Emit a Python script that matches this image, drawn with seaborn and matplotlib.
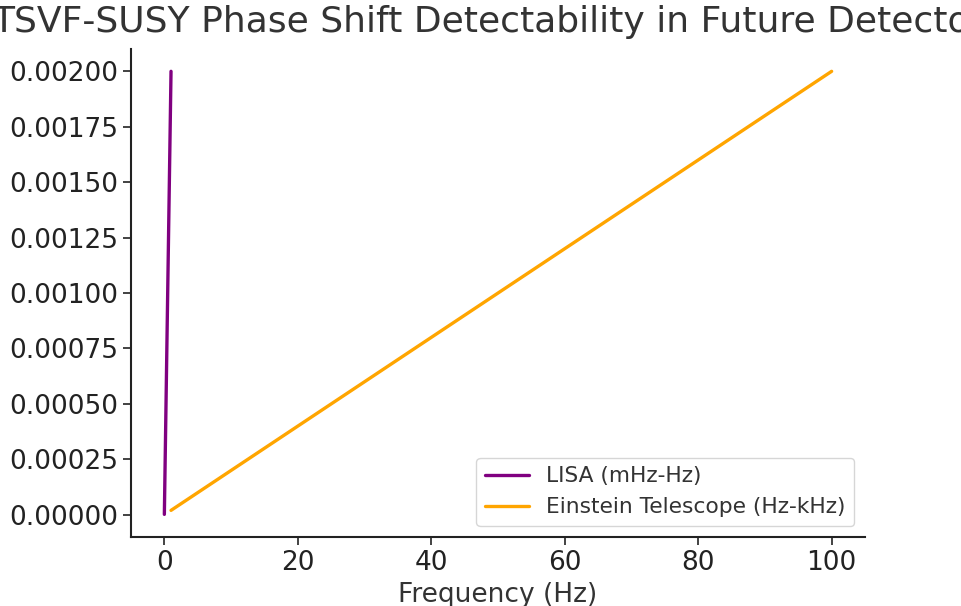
import numpy as np
import pandas as pd
import matplotlib
matplotlib.use("Agg")
import matplotlib.pyplot as plt
import seaborn as sns

# frequency (Hz) and phase shift endpoints
lisa_freq = [0.001, 1.0]
lisa_shift = [0.000002, 0.002]
et_freq = [1.0, 100.0]
et_shift = [0.00002, 0.002]

labels = ["LISA (mHz-Hz)", "Einstein Telescope (Hz-kHz)"]
colors = ["purple", "orange"]

df = pd.concat([
    pd.DataFrame({"freq": lisa_freq, "shift": lisa_shift, "det": labels[0]}),
    pd.DataFrame({"freq": et_freq, "shift": et_shift, "det": labels[1]}),
])

sns.set_style("ticks")
plt.rcParams["font.family"] = ["DejaVu Sans"]
text_col = "#333333"

fig = plt.figure(figsize=(9.61, 6.06), dpi=100)
ax = fig.add_axes([0.1363, 0.1139, 0.7638, 0.805])

sns.lineplot(data=df, x="freq", y="shift", hue="det", palette=colors,
             linewidth=2.4, ax=ax)

ax.set_xlim(-5, 105)
ax.set_ylim(-0.0001, 0.0021)
ax.set_yticks(np.arange(0, 0.00201, 0.00025))
ax.yaxis.set_major_formatter(matplotlib.ticker.FormatStrFormatter("%.5f"))
ax.set_xticks([0, 20, 40, 60, 80, 100])

ax.set_title("TSVF-SUSY Phase Shift Detectability in Future Detectors",
             fontsize=26, color=text_col, pad=12)
ax.set_xlabel("Frequency (Hz)", fontsize=19, color=text_col, labelpad=4)
ax.set_ylabel("")
ax.tick_params(labelsize=19, colors="#222222", length=6, width=1.2)
for s in ["left", "bottom"]:
    ax.spines[s].set_color("#222222")
    ax.spines[s].set_linewidth(1.5)
sns.despine(ax=ax)

leg = ax.legend(loc="lower right", fontsize=15.7, frameon=True, handlelength=2)
for t in leg.get_texts():
    t.set_color(text_col)

fig.savefig("out.png", dpi=100)
